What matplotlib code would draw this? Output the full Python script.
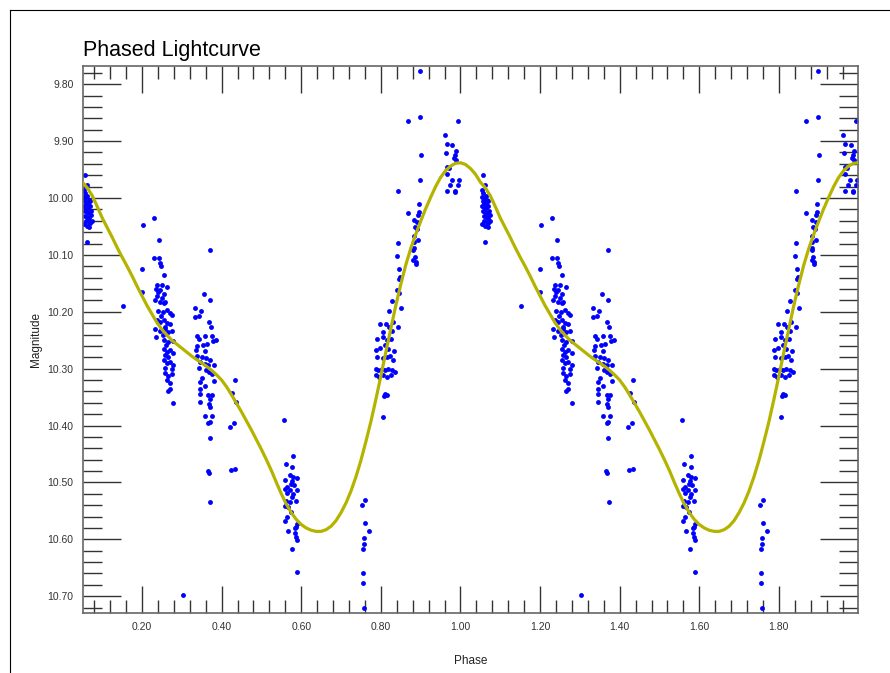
import matplotlib
matplotlib.use("Agg")
import matplotlib.pyplot as plt
from matplotlib.ticker import MultipleLocator, FormatStrFormatter
from matplotlib.lines import Line2D
import numpy as np

plt.rcParams['font.family'] = ['Liberation Sans', 'DejaVu Sans']

# observaciones en fase (un solo ciclo, de 0.05 a 1.0)
fase = np.array([
    # grupo cerca de fase 0.05
    0.056, 0.062, 0.055, 0.057, 0.061, 0.054, 0.058, 0.063, 0.066, 0.056,
    0.060, 0.064, 0.069, 0.055, 0.059, 0.065, 0.070, 0.057, 0.062, 0.067,
    0.072, 0.058, 0.063, 0.068, 0.073, 0.060, 0.066, 0.070, 0.062, 0.068,
    0.075, 0.053,
    # grupo 0.15 - 0.30
    0.152, 0.202, 0.200, 0.200, 0.229, 0.242, 0.231, 0.242, 0.245, 0.247,
    0.254, 0.237, 0.249, 0.264, 0.235, 0.241, 0.245, 0.254, 0.238, 0.250,
    0.233, 0.245, 0.254, 0.258, 0.241, 0.252, 0.262, 0.270, 0.275, 0.248,
    0.237, 0.245, 0.254, 0.262, 0.270, 0.258, 0.233, 0.245, 0.258, 0.266,
    0.275, 0.252, 0.234, 0.254, 0.266, 0.279, 0.260, 0.254, 0.262, 0.270,
    0.279, 0.258, 0.266, 0.254, 0.262, 0.270, 0.279, 0.258, 0.275, 0.258,
    0.266, 0.275, 0.262, 0.270, 0.270, 0.266, 0.279, 0.302,
    # grupo 0.33 - 0.44
    0.370, 0.355, 0.370, 0.333, 0.348, 0.343, 0.333, 0.368, 0.373, 0.337,
    0.343, 0.358, 0.375, 0.378, 0.385, 0.337, 0.354, 0.363, 0.335, 0.358,
    0.350, 0.360, 0.371, 0.337, 0.346, 0.358, 0.367, 0.382, 0.343, 0.360,
    0.368, 0.350, 0.375, 0.382, 0.346, 0.434, 0.357, 0.346, 0.346, 0.427,
    0.435, 0.367, 0.375, 0.371, 0.368, 0.371, 0.345, 0.375, 0.358, 0.371,
    0.367, 0.432, 0.421, 0.370, 0.365, 0.368, 0.423, 0.434, 0.372,
    # grupo 0.55 - 0.60
    0.557, 0.580, 0.561, 0.578, 0.572, 0.580, 0.589, 0.559, 0.576, 0.574,
    0.582, 0.564, 0.559, 0.589, 0.572, 0.565, 0.580, 0.576, 0.587, 0.562,
    0.572, 0.560, 0.567, 0.574, 0.565, 0.558, 0.589, 0.587, 0.567, 0.584,
    0.584, 0.587, 0.590, 0.576, 0.590,
    # grupo 0.75
    0.760, 0.753, 0.761, 0.770, 0.758, 0.758, 0.756, 0.756, 0.756, 0.758,
    # subida 0.79 - 0.90
    0.899, 0.898, 0.868, 0.900, 0.898, 0.844, 0.897, 0.867, 0.895, 0.893,
    0.884, 0.892, 0.886, 0.890, 0.884, 0.894, 0.884, 0.844, 0.884, 0.882,
    0.841, 0.886, 0.882, 0.888, 0.889, 0.846, 0.848, 0.846, 0.841, 0.846,
    0.829, 0.850, 0.821, 0.831, 0.813, 0.798, 0.820, 0.827, 0.844, 0.791,
    0.805, 0.815, 0.826, 0.806, 0.787, 0.797, 0.810, 0.818, 0.832, 0.790,
    0.805, 0.815, 0.823, 0.831, 0.788, 0.794, 0.802, 0.811, 0.819, 0.827,
    0.836, 0.788, 0.796, 0.806, 0.815, 0.825, 0.811, 0.809, 0.815, 0.806,
    # maximo 0.96 - 1.0
    0.995, 0.962, 0.966, 0.980, 0.963, 0.989, 0.986, 0.983, 0.988, 0.965,
    0.970, 0.966, 0.979, 0.997, 0.973, 0.995, 0.967, 0.986, 0.987,
])

magnitud = np.array([
    9.960, 9.977, 9.986, 9.992, 10.077, 9.998, 10.000, 9.997, 10.003, 10.006,
    10.008, 10.010, 10.006, 10.014, 10.016, 10.018, 10.014, 10.022, 10.024, 10.026,
    10.022, 10.031, 10.033, 10.035, 10.030, 10.040, 10.042, 10.044, 10.049, 10.051,
    10.040, 10.045,
    10.189, 10.048, 10.124, 10.166, 10.035, 10.074, 10.106, 10.106, 10.115, 10.120,
    10.135, 10.153, 10.153, 10.157, 10.160, 10.165, 10.162, 10.168, 10.172, 10.175,
    10.180, 10.183, 10.185, 10.182, 10.198, 10.200, 10.197, 10.202, 10.205, 10.208,
    10.215, 10.218, 10.214, 10.220, 10.222, 10.226, 10.230, 10.233, 10.230, 10.236,
    10.234, 10.240, 10.245, 10.250, 10.253, 10.252, 10.258, 10.265, 10.270, 10.268,
    10.272, 10.276, 10.279, 10.285, 10.290, 10.288, 10.293, 10.298, 10.300, 10.308,
    10.313, 10.310, 10.320, 10.325, 10.335, 10.340, 10.361, 10.697,
    10.092, 10.169, 10.179, 10.194, 10.199, 10.207, 10.210, 10.218, 10.227, 10.243,
    10.247, 10.243, 10.243, 10.252, 10.250, 10.261, 10.259, 10.257, 10.268, 10.269,
    10.280, 10.282, 10.285, 10.277, 10.288, 10.291, 10.294, 10.294, 10.299, 10.303,
    10.306, 10.316, 10.309, 10.322, 10.324, 10.320, 10.331, 10.336, 10.345, 10.342,
    10.358, 10.347, 10.347, 10.353, 10.362, 10.368, 10.359, 10.384, 10.384, 10.394,
    10.396, 10.396, 10.402, 10.422, 10.479, 10.483, 10.478, 10.476, 10.535,
    10.390, 10.454, 10.468, 10.473, 10.487, 10.491, 10.493, 10.495, 10.497, 10.502,
    10.504, 10.508, 10.512, 10.513, 10.514, 10.519, 10.521, 10.525, 10.532, 10.532,
    10.535, 10.541, 10.544, 10.552, 10.560, 10.567, 10.573, 10.579, 10.585, 10.580,
    10.588, 10.595, 10.601, 10.617, 10.657,
    10.531, 10.539, 10.571, 10.586, 10.598, 10.608, 10.617, 10.660, 10.676, 10.721,
    9.777, 9.857, 9.865, 9.924, 9.969, 9.988, 10.010, 10.026, 10.024, 10.030,
    10.038, 10.042, 10.051, 10.055, 10.067, 10.073, 10.077, 10.079, 10.087, 10.092,
    10.102, 10.104, 10.109, 10.112, 10.116, 10.124, 10.138, 10.142, 10.161, 10.167,
    10.181, 10.193, 10.199, 10.218, 10.222, 10.222, 10.227, 10.233, 10.227, 10.248,
    10.244, 10.250, 10.247, 10.236, 10.268, 10.263, 10.259, 10.265, 10.269, 10.280,
    10.282, 10.280, 10.277, 10.285, 10.300, 10.303, 10.300, 10.303, 10.300, 10.303,
    10.305, 10.311, 10.315, 10.311, 10.315, 10.311, 10.344, 10.348, 10.347, 10.385,
    9.865, 9.889, 9.905, 9.907, 9.921, 9.917, 9.924, 9.930, 9.933, 9.945,
    9.948, 9.958, 9.969, 9.969, 9.978, 9.978, 9.987, 9.987, 9.990,
])

# curva ajustada, muestreada cada 0.0125 en fase (0.0 a 1.0)
fase_ajuste = np.arange(0.0, 1.0001, 0.0125)
mag_ajuste = np.array([
    9.938, 9.941, 9.948, 9.958, 9.972, 9.982, 9.996, 10.015, 10.035, 10.052,
    10.069, 10.087, 10.104, 10.120, 10.137, 10.155, 10.172, 10.189, 10.204, 10.219,
    10.231, 10.241, 10.250, 10.257, 10.264, 10.271, 10.278, 10.284, 10.290, 10.296,
    10.303, 10.311, 10.320, 10.332, 10.346, 10.361, 10.376, 10.392, 10.408, 10.425,
    10.442, 10.460, 10.479, 10.500, 10.520, 10.538, 10.553, 10.565, 10.574, 10.580,
    10.584, 10.586, 10.586, 10.583, 10.577, 10.567, 10.553, 10.536, 10.515, 10.490,
    10.461, 10.428, 10.393, 10.354, 10.313, 10.271, 10.230, 10.189, 10.152, 10.118,
    10.089, 10.064, 10.041, 10.019, 9.999, 9.980, 9.964, 9.952, 9.944, 9.939,
    9.938,
])

# se repite el ciclo para mostrar dos periodos
x_obs = np.concatenate([fase, fase + 1])
y_obs = np.concatenate([magnitud, magnitud])
x_fit = np.concatenate([fase_ajuste[:-1], fase_ajuste + 1])
y_fit = np.concatenate([mag_ajuste[:-1], mag_ajuste])

fig = plt.figure(figsize=(8.9, 6.73), dpi=100)
ax = fig.add_axes([0.0936, 0.0887, 0.8701, 0.8132])

ax.plot(x_obs, y_obs, 'o', color='#0000ff', ms=3.5, mec='none', zorder=2)
ax.plot(x_fit, y_fit, '-', color='#b4b400', lw=2.3, zorder=3,
        solid_joinstyle='round')

ax.set_xlim(0.0525, 1.998)
ax.set_ylim(10.730, 9.768)

ax.xaxis.set_major_locator(MultipleLocator(0.2))
ax.xaxis.set_minor_locator(MultipleLocator(0.04))
ax.yaxis.set_major_locator(MultipleLocator(0.1))
ax.yaxis.set_minor_locator(MultipleLocator(0.02))
ax.xaxis.set_major_formatter(FormatStrFormatter('%.2f'))
ax.yaxis.set_major_formatter(FormatStrFormatter('%.2f'))

ax.tick_params(which='both', direction='in', top=True, right=True,
               color='#333333', width=1.0, labelsize=7.5, labelcolor='#333333')
ax.tick_params(axis='x', which='major', length=19.5, pad=6.5)
ax.tick_params(axis='x', which='minor', length=9.5)
ax.tick_params(axis='y', which='major', length=27.5, pad=7)
ax.tick_params(axis='y', which='minor', length=13.7)

for s in ax.spines.values():
    s.set_color('#666666')
    s.set_linewidth(1.2)

ax.set_title('Phased Lightcurve', loc='left', fontsize=15.5, pad=7)
ax.set_xlabel('Phase', fontsize=8.5, labelpad=16, color='#222222')
ax.set_ylabel('Magnitude', fontsize=8.5, labelpad=4, color='#222222')

# marco exterior
fig.add_artist(Line2D([0.0112, 0.0112], [0.0, 0.9851], transform=fig.transFigure,
                      color='black', lw=0.8))
fig.add_artist(Line2D([0.0112, 1.0], [0.9851, 0.9851], transform=fig.transFigure,
                      color='black', lw=0.8))

fig.savefig('out.png', dpi=100)
